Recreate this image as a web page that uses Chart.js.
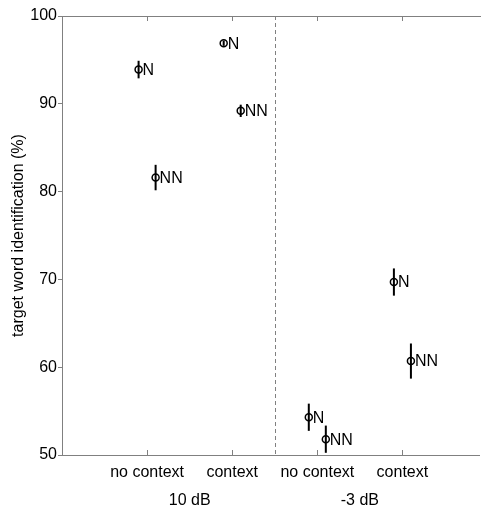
<!DOCTYPE html>
<html>
<head>
<meta charset="utf-8">
<script src="https://cdn.jsdelivr.net/npm/chart.js@4"></script>
<style>
  html, body { margin: 0; padding: 0; background: #fff; }
  #wrap { width: 484px; height: 508px; }
</style>
</head>
<body>
<div id="wrap"><canvas id="errplot"></canvas></div>
<script>
// data
var categories = ['no context', 'context', 'no context', 'context'];
var groups = ['10 dB', '-3 dB'];
var nMean = [93.9, 96.9, 54.3, 69.7];
var nErr = [1.0, 0.3, 1.55, 1.55];
var nnMean = [81.6, 89.2, 51.8, 60.7];
var nnErr = [1.45, 0.7, 1.55, 2.0];
var yTicks = [50, 60, 70, 80, 90, 100];

var axisGray = '#808080';
var fontFam = '"Liberation Sans", Arial, sans-serif';

function points(means, errs, shift, label) {
    var out = [];
    for (var i = 0; i < means.length; i++) {
        out.push({ x: i + 1 + shift, y: means[i], err: errs[i], tag: label });
    }
    return out;
}

var errorBars = {
    id: 'errorBars',
    beforeDatasetsDraw: function(chart) {
        var ctx = chart.ctx;
        var xs = chart.scales.x, ys = chart.scales.y;
        var area = chart.chartArea;
        ctx.save();
        // dashed separator between the two SNR groups
        ctx.strokeStyle = axisGray;
        ctx.lineWidth = 1;
        ctx.setLineDash([4, 3]);
        var xm = Math.round(xs.getPixelForValue(2.5)) + 0.5;
        ctx.beginPath();
        ctx.moveTo(xm, area.top);
        ctx.lineTo(xm, area.bottom);
        ctx.stroke();
        ctx.setLineDash([]);
        // top border and inward x ticks
        ctx.beginPath();
        ctx.moveTo(area.left, area.top + 0.5);
        ctx.lineTo(area.right + 2, area.top + 0.5);
        for (var c = 0; c < categories.length; c++) {
            var tx = Math.round(xs.getPixelForValue(c + 1)) + 0.5;
            ctx.moveTo(tx, area.top);
            ctx.lineTo(tx, area.top + 5);
            ctx.moveTo(tx, area.bottom);
            ctx.lineTo(tx, area.bottom - 5);
        }
        ctx.stroke();
        // error bars
        ctx.strokeStyle = '#000';
        ctx.lineWidth = 2;
        chart.data.datasets.forEach(function(ds) {
            ds.data.forEach(function(p) {
                var px = xs.getPixelForValue(p.x);
                ctx.beginPath();
                ctx.moveTo(px, ys.getPixelForValue(p.y + p.err));
                ctx.lineTo(px, ys.getPixelForValue(p.y - p.err));
                ctx.stroke();
            });
        });
        ctx.restore();
    },
    afterDatasetsDraw: function(chart) {
        var ctx = chart.ctx;
        var xs = chart.scales.x, ys = chart.scales.y;
        ctx.save();
        ctx.fillStyle = '#000';
        ctx.font = '16px ' + fontFam;
        ctx.textAlign = 'left';
        ctx.textBaseline = 'middle';
        chart.data.datasets.forEach(function(ds) {
            ds.data.forEach(function(p) {
                ctx.fillText(p.tag, xs.getPixelForValue(p.x) + 4, ys.getPixelForValue(p.y) + 1);
            });
        });
        // group labels under the category labels
        ctx.textAlign = 'center';
        ctx.fillText(groups[0], xs.getPixelForValue(1.5), 501);
        ctx.fillText(groups[1], xs.getPixelForValue(3.5), 501);
        ctx.restore();
    }
};

var pointStyle = {
    showLine: false,
    pointStyle: 'circle',
    pointRadius: 3.5,
    pointHoverRadius: 3.5,
    pointBorderWidth: 1.5,
    pointBorderColor: '#000',
    pointBackgroundColor: 'rgba(0,0,0,0)'
};

var chartdata = {
    datasets: [
        Object.assign({ label: 'N', data: points(nMean, nErr, -0.1, 'N') }, pointStyle),
        Object.assign({ label: 'NN', data: points(nnMean, nnErr, 0.1, 'NN') }, pointStyle)
    ]
};

var canvas = document.getElementById('errplot');
var plot = new Chart(canvas, {
    type: 'scatter',
    data: chartdata,
    plugins: [errorBars],
    options: {
        responsive: true,
        maintainAspectRatio: false,
        animation: false,
        layout: { padding: { top: 16, right: 2, left: 0, bottom: 0 } },
        plugins: { legend: { display: false }, tooltip: { enabled: false } },
        scales: {
            x: {
                type: 'linear',
                min: 0,
                max: 4.9,
                afterFit: function(s) { s.height = 53; },
                afterBuildTicks: function(s) {
                    s.ticks = categories.map(function(c, i) { return { value: i + 1 }; });
                },
                grid: { display: false },
                border: { display: true, color: axisGray, width: 1 },
                ticks: {
                    padding: 0,
                    color: '#000',
                    font: { family: fontFam, size: 16 },
                    maxRotation: 0,
                    autoSkip: false,
                    callback: function(v) { return categories[v - 1]; }
                }
            },
            y: {
                min: 50,
                max: 100,
                afterFit: function(s) { s.width = 62; },
                afterBuildTicks: function(s) {
                    s.ticks = yTicks.map(function(v) { return { value: v }; });
                },
                grid: { drawOnChartArea: false, color: axisGray, tickLength: 4 },
                border: { display: true, color: axisGray, width: 1 },
                ticks: {
                    padding: 1,
                    color: '#000',
                    font: { family: fontFam, size: 16 }
                },
                title: {
                    display: true,
                    text: 'target word identification (%)',
                    color: '#000',
                    font: { family: fontFam, size: 16 },
                    padding: { top: 9, bottom: 0 }
                }
            }
        }
    }
});
</script>
</body>
</html>
